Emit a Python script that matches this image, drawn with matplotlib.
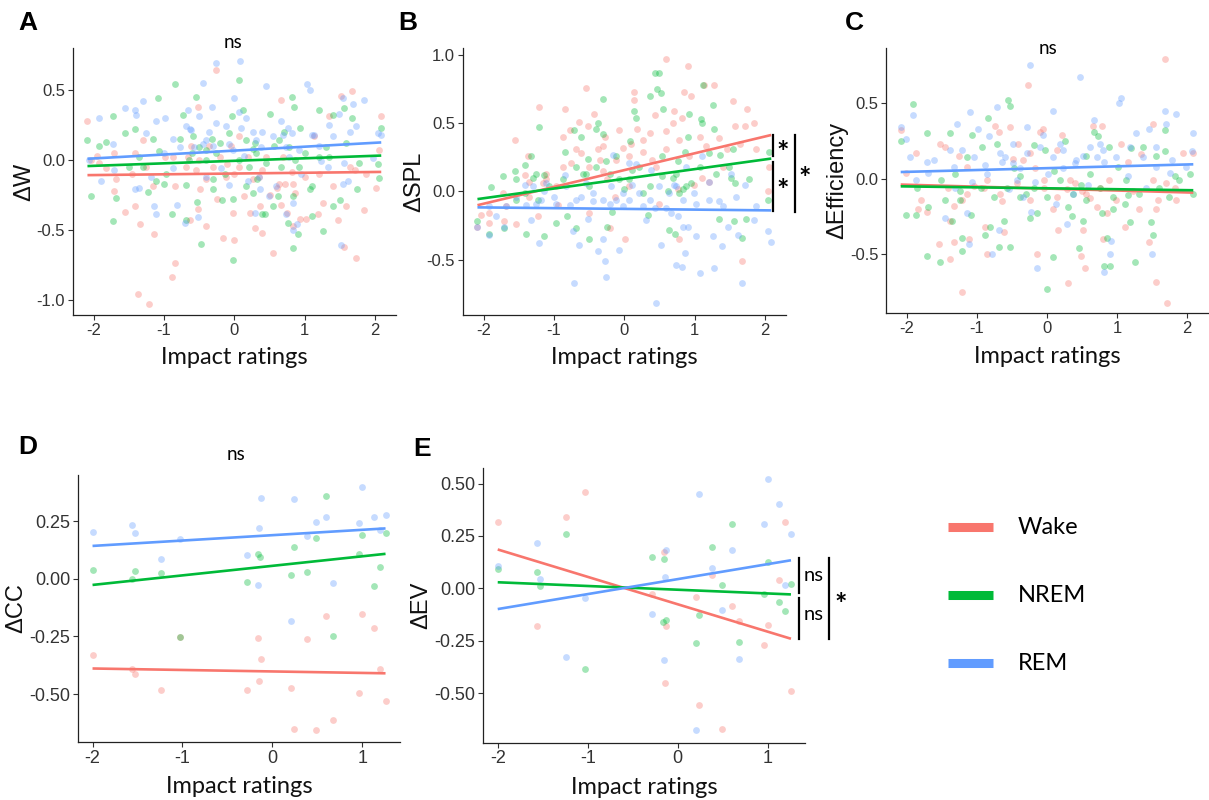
import matplotlib
matplotlib.use("Agg")
import matplotlib.pyplot as plt
from matplotlib.lines import Line2D
import numpy as np

plt.rcParams['axes.unicode_minus'] = False

# ---------------- data ----------------
states = ["Wake", "NREM", "REM"]
colors = ["#F8766D", "#00BA38", "#619CFF"]

A_wake = [(-2.04,0.0),(-1.95,0.03),(-1.83,-0.06),(-1.71,0.05),(-1.71,-0.22),(-1.55,-0.37),(-1.41,0.05),(-1.41,-0.33),
          (-1.37,-0.96),(-1.34,-0.46),(-1.30,0.14),(-1.22,-1.03),(-1.14,-0.53),(-1.26,-0.05),(-0.89,-0.84),(-0.85,-0.74),
          (-0.85,-0.19),(-0.98,0.02),(-0.66,0.02),(-0.63,-0.43),(-0.62,0.1),(-0.55,-0.07),(-0.52,0.38),(-0.52,-0.35),
          (-0.49,-0.21),(-0.4,-0.14),(-0.36,0.1),(-0.26,0.64),(-0.24,-0.28),(-0.21,0.02),(-0.16,-0.56),(-0.05,0.1),
          (0.0,-0.57),(0.0,-0.1),(0.07,0.17),(0.14,-0.26),(0.22,-0.38),(0.3,-0.49),(0.35,-0.12),(0.4,-0.52),
          (0.45,0.02),(0.51,-0.25),(0.55,-0.67),(0.67,0.43),(0.67,-0.32),(0.72,-0.17),(0.75,-0.38),(0.82,-0.09),
          (0.83,-0.47),(0.87,-0.24),(0.94,-0.42),(1.02,-0.42),(1.14,0.17),(1.19,-0.39),(1.26,-0.31),(1.35,0.31),
          (1.48,-0.43),(1.52,0.46),(1.56,-0.62),(1.68,0.49),(1.73,-0.70),(1.71,-0.07),(1.84,-0.36),(2.06,0.07),
          (2.08,0.31),(2.01,-0.2),(-2.09,0.28),(0.6,-0.2),(-0.1,-0.03),(1.0,-0.12),
          (-0.69,-0.05),(-0.5,0.0),(-0.31,-0.05),(-0.12,-0.12),(0.07,-0.05),(0.19,0.02),(0.26,-0.14),(0.4,-0.07),
          (0.64,-0.17),(0.69,0.02),(0.83,-0.17),(1.21,-0.1),(1.4,-0.19),(1.64,-0.05),(1.87,-0.1),(-1.45,-0.1),
          (-1.16,-0.19),(-0.88,0.02),(-1.68,-0.14),(-1.92,-0.02),(-0.02,-0.38),(0.36,-0.33),(-0.4,-0.47),(1.59,-0.33)]
A_nrem = [(-2.09,0.14),(-2.04,-0.26),(-1.92,0.1),(-1.83,0.13),(-1.72,0.31),(-1.72,-0.44),(-1.69,-0.27),(-1.55,0.19),
          (-1.41,0.22),(-1.35,0.02),(-1.23,-0.23),(-1.16,0.15),(-1.08,0.44),(-1.12,-0.15),(-1.0,-0.17),(-0.89,-0.39),
          (-0.85,0.54),(-0.73,0.32),(-0.69,-0.43),(-0.65,0.0),(-0.55,0.45),(-0.53,-0.3),(-0.48,-0.6),(-0.41,0.07),
          (-0.32,0.15),(-0.31,-0.14),(-0.17,-0.29),(-0.13,-0.1),(-0.08,0.19),(-0.04,0.31),(-0.02,-0.72),(0.06,0.57),
          (0.12,0.36),(0.17,-0.19),(0.21,-0.05),(0.26,0.08),(0.32,-0.14),(0.4,-0.39),(0.44,-0.39),(0.51,0.33),
          (0.56,0.1),(0.62,-0.26),(0.67,-0.05),(0.76,-0.45),(0.82,0.45),(0.83,-0.63),(0.85,0.38),(0.87,0.0),
          (0.9,-0.53),(0.94,0.23),(1.07,-0.21),(1.11,-0.4),(1.2,0.36),(1.26,-0.51),(1.3,0.09),(1.4,0.32),
          (1.51,-0.29),(1.56,0.37),(1.68,0.3),(1.74,-0.21),(2.06,-0.13),(2.09,0.23),(2.05,-0.03),(-0.6,0.05),
          (0.3,0.12),(1.0,0.05),(-1.5,-0.05),(0.7,0.2),
          (-0.78,0.15),(-0.59,0.17),(-0.5,0.09),(-0.4,0.0),(-0.26,0.05),(-0.21,0.12),(0.07,0.0),(0.17,0.14),
          (0.31,0.05),(0.45,-0.02),(0.64,0.14),(0.78,0.09),(0.92,-0.05),(1.21,0.02),(1.35,0.02),(1.59,0.12),
          (1.78,-0.02),(-1.3,-0.05),(-1.07,0.06),(-0.97,-0.1),(-0.69,-0.18),(-0.31,-0.21),(-0.02,-0.28),(0.26,-0.24),
          (0.55,-0.33),(0.83,-0.26),(1.11,-0.19),(1.4,-0.33)]
A_rem = [(-2.07,0.0),(-1.93,0.3),(-1.9,-0.15),(-1.72,0.11),(-1.71,-0.07),(-1.55,0.37),(-1.41,0.36),(-1.4,0.32),
         (-1.3,0.42),(-1.42,-0.21),(-1.26,0.19),(-1.15,-0.33),(-1.11,-0.39),(-1.11,0.28),(-0.99,0.3),(-0.88,0.15),
         (-0.82,-0.32),(-0.78,0.09),(-0.7,-0.45),(-0.66,0.36),(-0.62,0.21),(-0.5,0.31),(-0.52,-0.41),(-0.44,0.55),
         (-0.36,0.2),(-0.32,0.38),(-0.26,0.69),(-0.19,-0.06),(-0.08,0.11),(-0.01,0.44),(0.08,0.71),(0.07,0.34),
         (0.14,0.03),(0.17,0.3),(0.2,-0.15),(0.3,-0.38),(0.35,-0.12),(0.45,0.53),(0.5,-0.26),(0.55,0.17),
         (0.66,0.28),(0.73,-0.39),(0.76,0.23),(0.82,0.19),(0.83,-0.31),(0.83,-0.5),(0.89,-0.46),(0.92,0.07),
         (1.03,0.54),(1.07,0.5),(1.11,0.18),(1.23,-0.01),(1.35,0.25),(1.41,0.17),(1.49,0.33),(1.52,-0.61),
         (1.54,0.44),(1.61,-0.15),(1.69,0.4),(1.73,0.24),(1.84,0.43),(2.05,0.19),(2.08,0.18),(1.56,-0.02),
         (-0.3,0.1),(0.4,0.2),(-1.0,0.05),(1.2,0.1),
         (-0.69,0.24),(-0.63,0.22),(-0.57,0.09),(-0.44,0.11),(-0.4,0.14),(-0.26,0.26),(-0.12,0.24),(-0.02,0.07),
         (0.09,0.23),(0.26,0.2),(0.31,0.14),(0.38,0.09),(0.69,0.18),(0.73,0.09),(0.78,0.02),(1.14,0.18),
         (1.33,-0.05),(1.54,-0.17),(1.64,0.2),(1.97,0.01),(-1.35,-0.2),(-1.18,-0.12),(-0.88,-0.06),(-0.4,-0.12),
         (-0.07,-0.18),(0.36,-0.21),(0.59,-0.19),(0.95,-0.1)]
A_fit = [(-0.098, 0.0055), (-0.007, 0.018), (0.066, 0.028)]   # (intercept, slope)

B_wake = [(-2.09,-0.264),(-2.04,-0.17),(-1.93,-0.23),(-1.73,-0.01),(-1.71,-0.22),(-1.55,0.38),(-1.54,-0.24),(-1.41,0.12),
          (-1.37,0.26),(-1.35,0.07),(-1.23,-0.18),(-1.22,0.62),(-1.16,0.06),(-1.11,0.09),(-0.97,0.04),(-0.95,-0.1),
          (-0.88,0.4),(-0.85,0.6),(-0.78,0.45),(-0.76,0.21),(-0.65,0.51),(-0.62,0.28),(-0.55,0.76),(-0.52,0.48),
          (-0.5,-0.16),(-0.43,0.57),(-0.38,0.31),(-0.35,0.23),(-0.27,0.4),(-0.24,0.09),(-0.2,-0.27),(-0.14,-0.04),
          (-0.08,0.45),(-0.02,0.32),(0.01,-0.35),(0.07,0.04),(0.09,0.35),(0.14,0.73),(0.14,0.67),(0.18,0.46),
          (0.26,0.29),(0.36,0.43),(0.44,0.56),(0.45,0.18),(0.5,-0.09),(0.59,0.97),(0.59,0.44),(0.69,0.5),
          (0.71,0.59),(0.76,0.02),(0.78,-0.35),(0.82,0.54),(0.85,0.73),(0.9,0.92),(0.95,0.7),(0.99,0.05),
          (1.08,0.4),(1.11,0.1),(1.14,0.78),(1.2,0.07),(1.28,0.78),(1.35,0.39),(1.46,0.31),(1.54,0.66),
          (1.58,0.48),(1.68,-0.51),(1.71,0.48),(1.74,0.6),(1.84,0.5),(2.05,0.0),(2.06,0.18),(-0.3,0.15),
          (-1.35,-0.04),(-1.11,0.13),(-0.88,0.18),(-0.69,0.31),(-0.5,0.18),(-0.31,0.33),(-0.12,0.23),(0.07,0.26),
          (0.26,0.38),(0.4,0.23),(0.59,0.31),(0.78,0.38),(0.92,0.26),(1.16,0.33),(1.4,0.18),(1.64,0.35),
          (1.87,0.31),(-1.68,-0.11),(-1.92,-0.16)]
B_nrem = [(-2.09,-0.22),(-1.92,-0.31),(-1.9,0.03),(-1.73,0.11),(-1.71,-0.27),(-1.55,0.15),(-1.54,0.09),(-1.42,-0.01),
          (-1.41,0.19),(-1.4,-0.31),(-1.33,0.26),(-1.3,0.1),(-1.23,-0.06),(-1.22,0.47),(-1.15,0.12),(-1.14,-0.33),
          (-0.97,-0.23),(-0.85,0.29),(-0.81,-0.18),(-0.71,0.45),(-0.69,-0.27),(-0.62,0.4),(-0.59,0.13),(-0.55,0.13),
          (-0.52,0.24),(-0.51,-0.35),(-0.41,0.46),(-0.37,0.5),(-0.31,0.68),(-0.31,0.42),(-0.26,0.22),(-0.24,-0.26),
          (-0.17,-0.15),(-0.07,0.09),(0.0,0.02),(0.08,0.37),(0.11,0.16),(0.14,0.59),(0.17,0.54),(0.26,-0.01),
          (0.33,-0.17),(0.36,0.7),(0.43,0.87),(0.46,0.75),(0.49,0.87),(0.52,0.72),(0.54,0.11),(0.55,0.6),
          (0.62,0.0),(0.64,-0.28),(0.69,0.1),(0.72,-0.31),(0.77,0.22),(0.78,-0.01),(0.83,0.02),(0.86,0.29),
          (0.91,0.4),(0.92,0.57),(0.95,0.06),(1.09,0.53),(1.1,0.5),(1.12,0.78),(1.21,0.28),(1.26,0.63),
          (1.28,0.46),(1.35,-0.2),(1.36,0.27),(1.52,0.1),(1.54,0.31),(1.56,-0.22),(1.58,0.06),(1.68,-0.34),
          (1.73,-0.2),(2.06,0.29),(2.05,-0.06),
          (-1.26,0.13),(-1.07,0.04),(-0.88,0.09),(-0.69,0.18),(-0.5,0.04),(-0.4,0.18),(-0.21,0.13),(-0.12,0.26),
          (0.07,0.09),(0.21,0.18),(0.36,0.04),(0.54,0.26),(0.73,0.13),(0.88,0.04),(1.07,0.18),(1.3,0.13),
          (1.49,0.18),(1.78,0.09),(-1.54,-0.06)]
B_rem = [(-2.09,-0.26),(-1.92,-0.32),(-1.83,-0.18),(-1.71,-0.26),(-1.41,0.05),(-1.4,-0.1),(-1.33,-0.21),(-1.26,-0.09),
         (-1.21,-0.38),(-1.15,0.0),(-1.11,0.06),(-1.0,-0.04),(-0.85,0.12),(-0.78,-0.1),(-0.73,-0.29),(-0.71,-0.67),
         (-0.64,-0.39),(-0.62,-0.04),(-0.55,0.06),(-0.52,-0.2),(-0.45,-0.07),(-0.38,-0.44),(-0.31,-0.35),(-0.28,-0.51),
         (-0.26,-0.63),(-0.19,0.04),(-0.16,0.27),(-0.12,-0.06),(-0.08,-0.43),(-0.02,-0.11),(0.06,0.21),(0.11,0.05),
         (0.17,0.2),(0.26,-0.11),(0.31,-0.21),(0.38,0.16),(0.43,-0.12),(0.45,-0.82),(0.52,-0.39),(0.59,-0.12),
         (0.66,-0.16),(0.71,0.05),(0.73,-0.54),(0.76,-0.18),(0.82,-0.55),(0.84,-0.26),(0.86,-0.45),(0.88,0.18),
         (0.91,-0.26),(0.99,-0.01),(1.02,-0.33),(1.07,-0.6),(1.1,0.26),(1.2,0.07),(1.26,-0.33),(1.28,-0.56),
         (1.35,-0.07),(1.39,-0.4),(1.48,-0.26),(1.52,0.13),(1.61,-0.32),(1.68,-0.67),(1.71,0.05),(1.84,-0.21),
         (2.05,-0.29),(2.09,-0.37),
         (-1.3,0.04),(-1.18,-0.06),(-0.97,-0.09),(-0.83,0.04),(-0.69,-0.06),(-0.45,-0.01),(-0.31,-0.06),(-0.21,-0.09),
         (-0.02,-0.01),(0.07,-0.06),(0.21,-0.01),(0.36,-0.06),(0.5,0.04),(0.64,-0.01),(0.73,0.04),(0.83,-0.06),
         (1.02,-0.09),(1.21,-0.06),(1.4,-0.11),(1.59,-0.04),(1.87,-0.11),(-1.68,-0.11),(-1.54,-0.04),(-1.92,-0.11)]
B_fit = [(0.156, 0.123), (0.092, 0.071), (-0.128, -0.0053)]

C_wake = [(-2.09,0.32),(-2.02,0.04),(-1.87,0.17),(-1.84,-0.2),(-1.71,-0.22),(-1.53,0.23),(-1.54,-0.43),(-1.46,0.21),
          (-1.39,-0.28),(-1.38,-0.53),(-1.33,-0.18),(-1.33,-0.42),(-1.26,0.15),(-1.21,-0.75),(-1.21,-0.14),(-1.14,0.08),
          (-1.11,-0.4),(-1.05,-0.05),(-0.88,-0.32),(-0.86,-0.5),(-0.74,0.35),(-0.68,0.31),(-0.64,-0.15),(-0.62,-0.35),
          (-0.53,0.34),(-0.49,0.13),(-0.41,0.23),(-0.34,0.12),(-0.27,0.62),(-0.24,0.17),(-0.17,0.07),(-0.1,0.31),
          (-0.06,0.33),(-0.15,-0.5),(-0.05,-0.01),(0.09,-0.2),(0.14,0.19),(0.16,-0.34),(0.21,0.29),(0.28,-0.07),
          (0.3,-0.69),(0.4,-0.03),(0.49,-0.51),(0.51,-0.34),(0.54,-0.59),(0.61,-0.13),(0.66,0.35),(0.71,-0.19),
          (0.78,0.35),(0.8,-0.4),(0.86,-0.23),(0.89,-0.01),(1.06,0.23),(1.11,-0.32),(1.15,0.11),(1.32,-0.2),
          (1.34,0.16),(1.46,-0.42),(1.52,0.36),(1.55,-0.2),(1.56,-0.68),(1.58,-0.14),(1.68,0.79),(1.7,-0.03),
          (1.72,-0.82),(1.83,-0.06),(1.94,0.17),(2.08,0.17),(0.5,-0.08),(-0.9,-0.06),
          (-1.8,-0.14),(-1.42,-0.06),(-1.14,-0.1),(-0.86,-0.01),(-0.67,-0.1),(-0.43,-0.03),(-0.24,-0.14),(-0.05,-0.06),
          (0.14,-0.12),(0.33,-0.01),(0.56,-0.1),(0.75,-0.06),(0.99,-0.14),(1.23,-0.08),(1.51,-0.01),(1.84,-0.14)]
C_nrem = [(-2.09,0.25),(-2.02,-0.24),(-1.91,0.49),(-1.87,-0.24),(-1.72,0.3),(-1.72,-0.51),(-1.7,-0.19),(-1.53,-0.55),
          (-1.46,-0.14),(-1.39,0.3),(-1.35,-0.28),(-1.32,0.03),(-1.24,-0.08),(-1.21,-0.39),(-1.21,-0.48),(-1.14,0.14),
          (-1.09,-0.24),(-1.07,0.29),(-0.93,0.21),(-0.88,-0.37),(-0.84,0.4),(-0.81,-0.32),(-0.71,0.23),(-0.69,-0.45),
          (-0.62,-0.28),(-0.56,0.52),(-0.53,0.48),(-0.53,-0.45),(-0.47,0.07),(-0.38,0.02),(-0.24,-0.26),(-0.19,0.22),
          (-0.15,-0.23),(0.0,-0.73),(-0.03,0.19),(0.1,0.05),(0.09,-0.52),(0.26,0.25),(0.3,-0.19),(0.35,-0.25),
          (0.45,-0.46),(0.49,-0.04),(0.51,-0.28),(0.56,0.15),(0.61,0.03),(0.67,0.31),(0.73,0.28),(0.78,-0.23),
          (0.81,-0.58),(0.85,-0.39),(0.89,0.21),(0.9,-0.58),(0.94,-0.2),(1.01,0.08),(1.11,-0.17),(1.15,-0.11),
          (1.18,-0.29),(1.2,0.2),(1.26,-0.55),(1.37,0.21),(1.49,-0.29),(1.51,-0.37),(1.56,0.15),(1.69,0.32),
          (1.69,0.18),(1.74,-0.12),(1.83,0.02),(2.04,0.03),(2.09,-0.1),(-0.3,-0.1),
          (-1.85,-0.06),(-1.52,-0.01),(-1.24,-0.14),(-0.95,-0.06),(-0.76,-0.12),(-0.57,-0.06),(-0.38,-0.12),(-0.19,-0.06),
          (0.0,-0.12),(0.18,-0.01),(0.37,-0.1),(0.56,-0.14),(0.75,-0.06),(0.94,-0.12),(1.13,-0.01),(1.32,-0.1),
          (1.6,-0.06),(1.89,-0.01)]
C_rem = [(-2.09,0.34),(-2.02,0.26),(-1.91,0.42),(-1.87,-0.01),(-1.72,0.11),(-1.7,0.04),(-1.46,-0.26),(-1.39,0.19),
         (-1.32,-0.06),(-1.28,0.36),(-1.21,0.19),(-1.14,-0.23),(-1.12,-0.43),(-1.1,0.44),(-1.07,-0.02),(-0.98,0.33),
         (-0.88,0.09),(-0.83,0.28),(-0.79,-0.5),(-0.71,0.47),(-0.68,-0.34),(-0.65,0.11),(-0.6,0.14),(-0.55,-0.07),
         (-0.48,0.23),(-0.43,-0.01),(-0.39,0.07),(-0.34,-0.12),(-0.28,0.34),(-0.25,0.75),(-0.23,-0.22),(-0.17,-0.02),
         (-0.14,-0.59),(-0.06,0.29),(0.02,0.03),(0.09,0.45),(0.13,-0.17),(0.18,0.23),(0.23,0.07),(0.29,-0.3),
         (0.37,-0.1),(0.47,0.67),(0.52,0.15),(0.59,-0.04),(0.67,0.39),(0.72,0.14),(0.75,0.23),(0.82,0.11),
         (0.82,-0.62),(0.9,-0.5),(0.91,-0.41),(1.03,0.5),(1.06,0.53),(1.15,0.02),(1.27,0.3),(1.41,-0.06),
         (1.46,0.33),(1.5,-0.5),(1.56,0.21),(1.69,0.45),(1.7,0.36),(1.75,0.04),(1.84,0.43),(2.07,0.18),
         (2.09,0.3),(0.4,0.1),
         (-1.95,0.14),(-1.61,0.12),(-1.33,0.08),(-1.05,0.14),(-0.86,0.03),(-0.67,0.17),(-0.48,0.1),(-0.29,0.17),
         (-0.1,0.21),(0.09,0.14),(0.23,0.19),(0.42,0.12),(0.61,0.21),(0.8,0.19),(0.99,0.14),(1.18,0.21),
         (1.37,0.14),(1.56,0.08),(1.79,0.12),(1.98,0.08)]
C_fit = [(-0.066, -0.0127), (-0.064, -0.0062), (0.069, 0.0122)]

D_wake = [(-2,-0.331),(-1.563,-0.392),(-1.53,-0.415),(-1.24,-0.483),(-1.03,-0.253),(-0.285,-0.484),(-0.16,-0.259),
          (-0.126,-0.35),(-0.144,-0.445),(0.211,-0.473),(0.237,-0.653),(0.385,-0.26),(0.489,-0.656),(0.6,-0.162),
          (0.678,-0.614),(0.963,-0.497),(1.0,-0.152),(1.13,-0.215),(1.196,-0.392),(1.259,-0.53)]
D_nrem = [(-2,0.036),(-1.563,0.0),(-1.53,0.035),(-1.24,0.026),(-1.03,-0.253),(-0.285,-0.013),(-0.16,0.107),
          (-0.135,0.095),(0.211,0.017),(0.237,0.136),(0.385,0.030),(0.489,0.176),(0.6,0.358),(0.678,-0.247),
          (0.963,0.107),(1.0,0.188),(1.13,-0.03),(1.196,0.051),(1.259,0.197)]
D_rem = [(-2,0.204),(-1.563,0.231),(-1.53,0.198),(-1.24,0.084),(-1.03,0.173),(-0.285,0.105),(-0.144,0.218),
         (-0.126,0.35),(-0.16,-0.029),(0.211,-0.182),(0.237,0.348),(0.385,0.184),(0.489,0.244),(0.6,0.269),
         (0.678,-0.019),(0.963,0.243),(1.0,0.397),(1.13,0.266),(1.196,0.21),(1.259,0.275)]
D_fit = [(-0.402, -0.0064), (0.056, 0.0414), (0.189, 0.0233)]

E_wake = [(-2,0.317),(-1.563,-0.182),(-1.24,0.341),(-1.03,0.462),(-0.281,-0.029),(-0.152,0.174),(-0.126,-0.178),
          (-0.144,-0.451),(0.207,-0.043),(0.237,-0.557),(0.385,0.062),(0.489,-0.672),(0.6,-0.086),(0.678,-0.154),
          (0.963,-0.271),(1.0,-0.177),(1.13,0.041),(1.196,0.317),(1.259,-0.489)]
E_nrem = [(-2,0.091),(-1.563,0.08),(-1.526,0.011),(-1.24,0.261),(-1.03,-0.387),(-0.281,0.15),(-0.152,0.139),
          (-0.126,-0.151),(-0.16,-0.16),(0.237,-0.126),(0.207,-0.263),(0.385,0.196),(0.489,0.014),(0.6,0.309),
          (0.678,-0.256),(0.963,-0.029),(1.0,0.126),(1.13,-0.065),(1.196,-0.107),(1.259,0.021)]
E_rem = [(-2,0.107),(-1.563,0.217),(-1.526,0.043),(-1.24,-0.33),(-1.03,-0.046),(-0.281,-0.123),(-0.152,-0.344),
         (-0.144,0.056),(-0.126,0.183),(0.207,-0.678),(0.237,0.451),(0.385,0.099),(0.489,-0.102),(0.6,0.183),
         (0.678,-0.339),(0.963,0.309),(1.0,0.521),(1.13,0.401),(1.196,0.016),(1.259,0.26)]
E_fit = [(-0.076, -0.1308), (-0.0066, -0.0178), (0.044, 0.0715)]

ylabels = ["\u0394W", "\u0394SPL", "\u0394Efficiency", "\u0394CC", "\u0394EV"]
letters = ["A", "B", "C", "D", "E"]
xlabel = "Impact ratings"

# ---------------- layout ----------------
W, H = 1209, 800
fig = plt.figure(figsize=(W / 100, H / 100), dpi=100)

def rect(l, t, r, b):
    return [l / W, 1 - b / H, (r - l) / W, (b - t) / H]

panels = [
    dict(data=[A_wake, A_nrem, A_rem], fit=A_fit, box=(72.7, 48, 396, 315),
         xlim=(-2.3, 2.3), ylim=(-1.11, 0.8), xt=[-2, -1, 0, 1, 2], yt=[-1.0, -0.5, 0.0, 0.5], fmt="{:.1f}", ts=12),
    dict(data=[B_wake, B_nrem, B_rem], fit=B_fit, box=(462.7, 48, 786, 315),
         xlim=(-2.3, 2.3), ylim=(-0.905, 1.05), xt=[-2, -1, 0, 1, 2], yt=[-0.5, 0.0, 0.5, 1.0], fmt="{:.1f}", ts=12),
    dict(data=[C_wake, C_nrem, C_rem], fit=C_fit, box=(886, 47.7, 1208, 313.3),
         xlim=(-2.3, 2.3), ylim=(-0.89, 0.865), xt=[-2, -1, 0, 1, 2], yt=[-0.5, 0.0, 0.5], fmt="{:.1f}", ts=12),
    dict(data=[D_wake, D_nrem, D_rem], fit=D_fit, box=(77.7, 475, 400, 742),
         xlim=(-2.165, 1.42), ylim=(-0.708, 0.45), xt=[-2, -1, 0, 1], yt=[-0.5, -0.25, 0.0, 0.25], fmt="{:.2f}", ts=13),
    dict(data=[E_wake, E_nrem, E_rem], fit=E_fit, box=(482.7, 467.7, 805, 742.7),
         xlim=(-2.167, 1.415), ylim=(-0.737, 0.576), xt=[-2, -1, 0, 1], yt=[-0.5, -0.25, 0.0, 0.25, 0.5], fmt="{:.2f}", ts=13),
]

tick_font = ["Liberation Sans", "DejaVu Sans"]
text_font = ["Lato", "DejaVu Sans"]

axes = []
for i, p in enumerate(panels):
    ax = fig.add_axes(rect(*p["box"]))
    axes.append(ax)
    allx = []
    for ser, col in zip(p["data"], colors):
        xs = np.array([d[0] for d in ser]); ys = np.array([d[1] for d in ser])
        allx.extend(xs)
        ax.scatter(xs, ys, s=24, color=col, alpha=0.36, linewidths=0, zorder=2)
    xmin, xmax = min(allx), max(allx)
    for (b0, b1), col in zip(p["fit"], colors):
        xx = np.array([xmin, xmax])
        ax.plot(xx, b0 + b1 * xx, color=col, lw=1.9, zorder=3, solid_capstyle="butt")
    ax.set_xlim(*p["xlim"]); ax.set_ylim(*p["ylim"])
    ax.set_xticks(p["xt"]); ax.set_xticklabels([str(v) for v in p["xt"]])
    ax.set_yticks(p["yt"]); ax.set_yticklabels([p["fmt"].format(v) for v in p["yt"]])
    for s in ["top", "right"]:
        ax.spines[s].set_visible(False)
    for s in ["left", "bottom"]:
        ax.spines[s].set_linewidth(0.9)
        ax.spines[s].set_color("#222222")
    ax.tick_params(length=3.5, width=0.8, color="#333333", labelsize=p["ts"], labelcolor="#333333", pad=2)
    for lab in ax.get_xticklabels() + ax.get_yticklabels():
        lab.set_family(tick_font)
    ax.set_xlabel(xlabel, fontsize=17, family=text_font, labelpad=7, color="#111111")
    ax.set_ylabel(ylabels[i], fontsize=17, family=tick_font, labelpad=1, color="#111111")

# panel letters
letter_pos = [(18, 23), (398, 23), (845, 23), (18, 447), (413, 449)]
for L, (x, y) in zip(letters, letter_pos):
    fig.text(x / W, 1 - y / H, L, fontsize=19, fontweight="bold", family=["Liberation Sans", "DejaVu Sans"],
             ha="left", va="center")

# ns labels
for (x, y) in [(233, 43), (1048, 49), (236, 455)]:
    fig.text(x / W, 1 - y / H, "ns", fontsize=13.5, family=text_font, ha="center", va="center")

def star(ax, x, y):
    ax.annotate("*", xy=(x, y), xytext=(0, -5), textcoords="offset points", fontsize=21,
                fontweight="bold", family=text_font, ha="center", va="center", annotation_clip=False)

# significance brackets, panel B
axB = axes[1]
for (x, y0, y1) in [(2.109, 0.413, 0.262), (2.109, 0.213, -0.142), (2.427, 0.413, -0.149)]:
    axB.plot([x, x], [y0, y1], color="black", lw=1.6, clip_on=False)
for (x, y) in [(2.25, 0.33), (2.25, 0.054), (2.57, 0.142)]:
    star(axB, x, y)

# significance brackets, panel E
axE = axes[4]
for (x, y0, y1) in [(1.348, 0.146, -0.021), (1.348, -0.045, -0.244), (1.685, 0.146, -0.244)]:
    axE.plot([x, x], [y0, y1], color="black", lw=1.6, clip_on=False)
for (x, y) in [(1.404, 0.06), (1.404, -0.127)]:
    axE.text(x, y, "ns", fontsize=14.5, family=text_font, ha="left", va="center", clip_on=False)
star(axE, 1.81, -0.048)

# legend
leg_y = [527, 595, 663]
for name, col, y in zip(states, colors, leg_y):
    fig.add_artist(Line2D([948 / W, 993 / W], [1 - y / H, 1 - y / H], color=col, lw=6.5,
                          transform=fig.transFigure, solid_capstyle="butt"))
    fig.text(1018 / W, 1 - y / H, name, fontsize=17, family=text_font, ha="left", va="center")

fig.savefig("out.png", dpi=100)
